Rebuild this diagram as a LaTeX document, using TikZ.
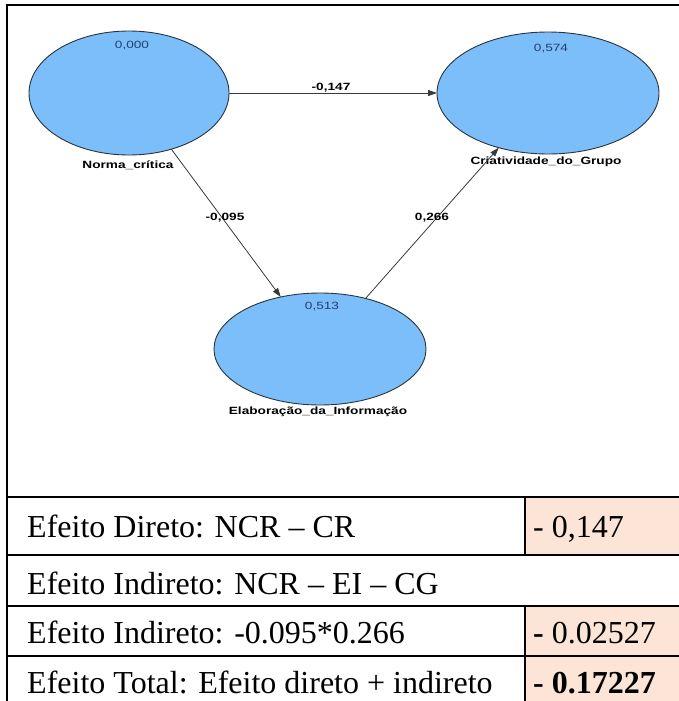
\documentclass[tikz,border=0pt]{standalone}
\usepackage{fontspec}
\usepackage{graphicx}
\setmainfont{Liberation Serif}
\newfontfamily\diagfont{Liberation Sans}
\usetikzlibrary{shapes.geometric,arrows.meta}

\definecolor{latent}{HTML}{7BBEF9}
\definecolor{latentedge}{HTML}{2A3440}
\definecolor{rsqcol}{HTML}{23406E}
\definecolor{pathcol}{HTML}{3A3A3A}
\definecolor{cellfill}{HTML}{FCE4D6}

% the path-model text is set a little wider than it is tall
\newcommand{\widetxt}[1]{\scalebox{1.3}[1]{#1}}

\begin{document}
\begin{tikzpicture}[x=1pt,y=-1pt,
  latentvar/.style={ellipse, draw=latentedge, line width=0.9pt, fill=latent,
                    inner sep=0pt, outer sep=0pt},
  varname/.style={font=\diagfont\bfseries\fontsize{10.5}{12}\selectfont, inner sep=0pt},
  rsq/.style={font=\diagfont\fontsize{10.5}{12}\selectfont, text=rsqcol, inner sep=0pt},
  coef/.style={font=\diagfont\bfseries\fontsize{10.5}{12}\selectfont, inner sep=0pt},
  pathline/.style={draw=pathcol, line width=0.8pt,
                   -{Triangle[length=9pt,width=6pt]}},
  tabletext/.style={font=\fontsize{32}{36}\selectfont, inner sep=0pt, anchor=base west},
  rule/.style={line width=2pt},
]
\useasboundingbox (0,0) rectangle (679,701);
\fill[white] (0,0) rectangle (679,701);

% ---- outer frame ----
\draw[line width=2.5pt] (5.5,5) -- (679,5);
\draw[line width=2.5pt] (7,4) -- (7,701);

% ---- latent variables ----
\node[latentvar, minimum width=200pt, minimum height=124pt] (norma) at (129,93) {};
\node[latentvar, minimum width=222pt, minimum height=122pt] (crit)  at (548,93) {};
\node[latentvar, minimum width=212pt, minimum height=112pt] (elab)  at (320,349) {};

\node[rsq] (r2norma) at (132,46)  {\widetxt{0,000}};
\node[rsq] (r2crit)  at (551,49)  {\widetxt{0,574}};
\node[rsq] (r2elab)  at (322,307) {\widetxt{0,513}};

\node[varname] (lnorma) at (128,165) {\widetxt{Norma\_crítica}};
\node[varname] (lcrit)  at (546,162) {\widetxt{Criatividade\_do\_Grupo}};
\node[varname] (lelab)  at (318,412) {\widetxt{Elaboração\_da\_Informação}};

% ---- structural paths ----
\draw[pathline] (norma.east) -- (crit.west);
\draw[pathline] (norma.-53.4) -- (elab.127);
\draw[pathline] (elab.48.5) -- (crit.228.3);

\node[coef] (c1) at (331,88)  {\widetxt{-0,147}};
\node[coef] (c2) at (225,218) {\widetxt{-0,095}};
\node[coef] (c3) at (432,218) {\widetxt{0,266}};

% ---- effects table ----
\fill[cellfill] (525,497) rectangle (679,555);
\fill[cellfill] (525,606) rectangle (679,701);

\draw[rule] (7,497) -- (679,497);
\draw[rule] (7,555) -- (679,555);
\draw[rule] (7,606) -- (679,606);
\draw[rule] (7,656) -- (679,656);
\draw[line width=1.6pt] (525,497) -- (525,555);
\draw[line width=1.6pt] (525,606) -- (525,701);

\node[tabletext] (t1) at (27,537) {Efeito Direto: NCR – CR};
\node[tabletext] (v1) at (533,537) {- 0,147};
\node[tabletext] (t2) at (27,594) {Efeito Indireto: NCR – EI – CG};
\node[tabletext] (t3) at (27,643) {Efeito Indireto: -0.095*0.266};
\node[tabletext] (v3) at (533,643) {\textbf{-} 0.02527};
\node[tabletext] (t4) at (27,693) {Efeito Total: Efeito direto + indireto};
\node[tabletext] (v4) at (533,693) {\textbf{- 0.17227}};
\end{tikzpicture}
\end{document}
